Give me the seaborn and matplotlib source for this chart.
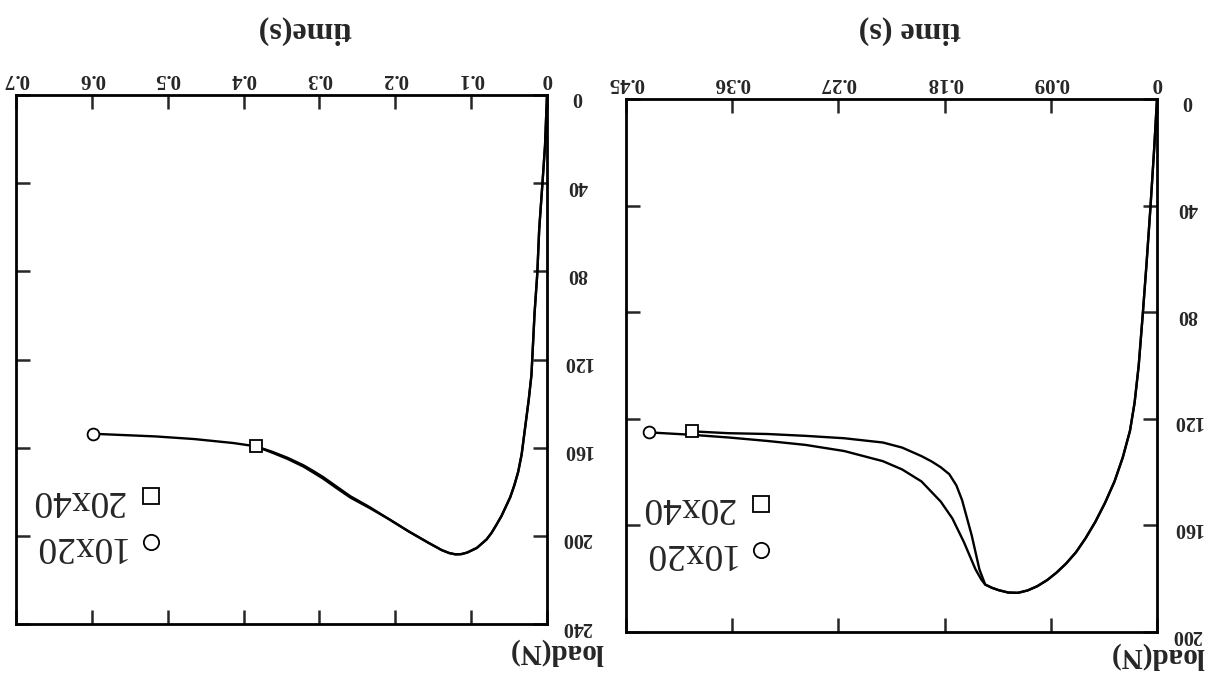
import matplotlib
matplotlib.use("Agg")
import matplotlib.pyplot as plt
import seaborn as sns
import pandas as pd
from matplotlib.lines import Line2D

# ---------------- data: panel drawn on the right (time 0-0.45 s, load 0-200 N)
a_t_10x20 = [0, 0.0023, 0.0056, 0.0089, 0.0121, 0.0155, 0.0190, 0.0229, 0.0290, 0.0360,
             0.0440, 0.0523, 0.0605, 0.0687, 0.0770, 0.0851, 0.0930, 0.1014, 0.1096,
             0.1178, 0.1260, 0.1342, 0.1400, 0.1456, 0.1489, 0.1538, 0.1636,
             0.1734, 0.1832, 0.1996, 0.2160, 0.2323, 0.2650, 0.2978, 0.3305, 0.3633,
             0.3944, 0.4304]
a_l_10x20 = [0, 18, 41, 62, 81, 100, 114, 124.5, 134.5, 143.5,
             151.5, 158.7, 164.8, 170.1, 174.3, 177.7, 180.5, 182.8, 184.4,
             185.3, 185.2, 184.3, 183.4, 182.2, 180.3, 176.5, 166.3,
             157.4, 151.1, 143.5, 139.0, 135.9, 132.1, 129.8, 128.3, 127.0,
             126.0, 125.1]
a_t_20x40 = [0, 0.0023, 0.0056, 0.0089, 0.0121, 0.0155, 0.0190, 0.0229, 0.0290, 0.0360,
             0.0440, 0.0523, 0.0605, 0.0687, 0.0770, 0.0851, 0.0930, 0.1014, 0.1096,
             0.1178, 0.1260, 0.1342, 0.1400, 0.1456, 0.1505, 0.1570, 0.1652,
             0.1700, 0.1760, 0.1832, 0.1910, 0.1996, 0.2160, 0.2323, 0.2650, 0.2978,
             0.3305, 0.3633, 0.3944]
a_l_20x40 = [0, 18, 41, 62, 81, 100, 114, 124.5, 134.5, 143.5,
             151.5, 158.7, 164.8, 170.1, 174.3, 177.7, 180.5, 182.8, 184.4,
             185.3, 185.2, 184.3, 183.4, 182.2, 176.5, 163.8, 150.5,
             145.0, 140.8, 138.2, 136.0, 134.0, 130.8, 128.9, 127.3, 126.4,
             125.7, 125.4, 124.7]
a_xticks = [0, 0.09, 0.18, 0.27, 0.36, 0.45]
a_xticklabels = ["0", "0.09", "0.18", "0.27", "0.36", "0.45"]
a_yticks = [0, 40, 80, 120, 160, 200]
a_yticklabels = ["0", "40", "80", "120", "160", "200"]

# ---------------- data: panel drawn on the left (time 0-0.7 s, load 0-240 N)
b_t_10x20 = [0, 0.0026, 0.0062, 0.0103, 0.0128, 0.0164, 0.0205, 0.0240, 0.0270, 0.0334,
             0.0380, 0.0430, 0.0485, 0.0539, 0.0600, 0.0667, 0.0730, 0.0796, 0.0925,
             0.1053, 0.1130, 0.1207, 0.1290, 0.1386, 0.1566, 0.1823,
             0.2080, 0.2337, 0.2594, 0.2780, 0.2953, 0.3080, 0.3210, 0.3420, 0.3620,
             0.3837, 0.4134, 0.4648, 0.5160, 0.5980]
b_l_10x20 = [0, 23, 41, 61, 81, 99, 127, 138, 146, 163,
             171, 177, 182.5, 186.5, 191, 195, 198.6, 201.6, 205.5,
             207.6, 208.3, 208.4, 207.8, 206.5, 203.1, 198,
             192.5, 187, 182.0, 177.5, 173.3, 170.6, 168.0, 164.6, 161.9,
             159.4, 157.9, 156.1, 154.9, 153.7]
b_t_20x40 = [0, 0.0026, 0.0062, 0.0103, 0.0128, 0.0164, 0.0205, 0.0240, 0.0270, 0.0334,
             0.0380, 0.0430, 0.0485, 0.0539, 0.0600, 0.0667, 0.0730, 0.0796, 0.0925,
             0.1053, 0.1130, 0.1207, 0.1290, 0.1386, 0.1566, 0.1823,
             0.2080, 0.2337, 0.2594, 0.2780, 0.2953, 0.3080, 0.3210, 0.3420, 0.3620,
             0.3837]
b_l_20x40 = [0, 23, 41, 61, 81, 99, 127, 138, 146, 163,
             171, 177, 182.5, 186.5, 191, 195, 198.6, 201.6, 205.5,
             207.6, 208.3, 208.4, 207.8, 206.5, 203.1, 198,
             192.5, 187.4, 182.6, 178.2, 174.0, 171.3, 168.6, 165.1, 162.3,
             159.4]
b_xticks = [0, 0.1, 0.2, 0.3, 0.4, 0.5, 0.6, 0.7]
b_xticklabels = ["0", "0.1", "0.2", "0.3", "0.4", "0.5", "0.6", "0.7"]
b_yticks = [0, 40, 80, 120, 160, 200, 240]
b_yticklabels = ["0", "40", "80", "120", "160", "200", "240"]

series_names = ["10x20", "20x40"]
xlabel_a = "time (s)"
xlabel_b = "time(s)"
ylabel_text = "load(N)"

sns.set_style("ticks")
plt.rcParams["font.family"] = ["Liberation Serif", "DejaVu Serif"]

W, H = 1218, 690
fig = plt.figure(figsize=(W / 100, H / 100), dpi=100)
axB = fig.add_axes([16 / W, (H - 624) / H, 531 / W, 529 / H])
axA = fig.add_axes([626 / W, (H - 632) / H, 531 / W, 533 / H])


def panel(ax, t1, l1, t2, l2, xmax, xticks, xtl, ymax, yticks, ytl,
          xlabel, xlab_pos, ylab_pos, leg_anchor):
    df = pd.concat([
        pd.DataFrame({"t": t1, "load": l1, "mesh": series_names[0]}),
        pd.DataFrame({"t": t2, "load": l2, "mesh": series_names[1]}),
    ])
    sns.lineplot(data=df, x="t", y="load", hue="mesh",
                 palette={series_names[0]: "black", series_names[1]: "black"},
                 sort=False, estimator=None, legend=False, lw=1.7, ax=ax)
    ax.plot([t1[-1]], [l1[-1]], "o", ms=8.5, mfc="white", mec="black", mew=1.3, zorder=5)
    ax.plot([t2[-1]], [l2[-1]], "s", ms=8.5, mfc="white", mec="black", mew=1.3, zorder=5)

    ax.set_xlim(xmax, 0)
    ax.set_ylim(ymax, 0)
    ax.set_xticks(xticks)
    ax.set_xticklabels(xtl)
    ax.set_yticks(yticks)
    ax.set_yticklabels(ytl)
    ax.tick_params(axis="x", which="both", direction="in", top=True, bottom=True,
                   labeltop=True, labelbottom=False, length=10, width=1.8,
                   pad=4, labelsize=15, labelrotation=180)
    ax.tick_params(axis="y", which="both", direction="in", left=True, right=True,
                   labelleft=False, labelright=True, length=10, width=1.8,
                   pad=22, labelsize=14.5, labelrotation=180)
    for tk in ax.xaxis.get_major_ticks():
        tk.label2.set_fontweight("bold")
    for tk in ax.yaxis.get_major_ticks():
        tk.label2.set_fontweight("bold")
        tk.label2.set_horizontalalignment("center")
    for s in ax.spines.values():
        s.set_linewidth(2.0)
        s.set_color("black")

    ax.xaxis.set_label_position("top")
    ax.set_xlabel(xlabel, fontsize=23, fontweight="bold", rotation=180, va="center")
    ax.xaxis.set_label_coords(*xlab_pos)
    ax.set_ylabel("")
    ax.text(ylab_pos[0], ylab_pos[1], ylabel_text, transform=ax.transAxes,
            rotation=180, ha="center", va="center", fontsize=21, fontweight="bold")

    handles = [
        Line2D([], [], ls="none", marker="s", ms=11, mfc="white", mec="black", mew=1.3),
        Line2D([], [], ls="none", marker="o", ms=11, mfc="white", mec="black", mew=1.3),
    ]
    leg = ax.legend(handles, [series_names[1], series_names[0]], loc="lower left",
                    bbox_to_anchor=leg_anchor, frameon=False, borderpad=0,
                    borderaxespad=0, handlelength=0.9, handletextpad=0.25,
                    labelspacing=0.3, markerfirst=False, fontsize=27)
    for txt in leg.get_texts():
        txt.set_rotation(180)


panel(axA, a_t_10x20, a_l_10x20, a_t_20x40, a_l_20x40, 0.45, a_xticks, a_xticklabels,
      200, a_yticks, a_yticklabels, xlabel_a, (0.535, 1.128), (1.0, -0.045), (0.028, 0.115))
panel(axB, b_t_10x20, b_l_10x20, b_t_20x40, b_l_20x40, 0.7, b_xticks, b_xticklabels,
      240, b_yticks, b_yticklabels, xlabel_b, (0.544, 1.123), (1.017, -0.053), (0.028, 0.115))

fig.savefig("out.png", dpi=100, facecolor="white")
